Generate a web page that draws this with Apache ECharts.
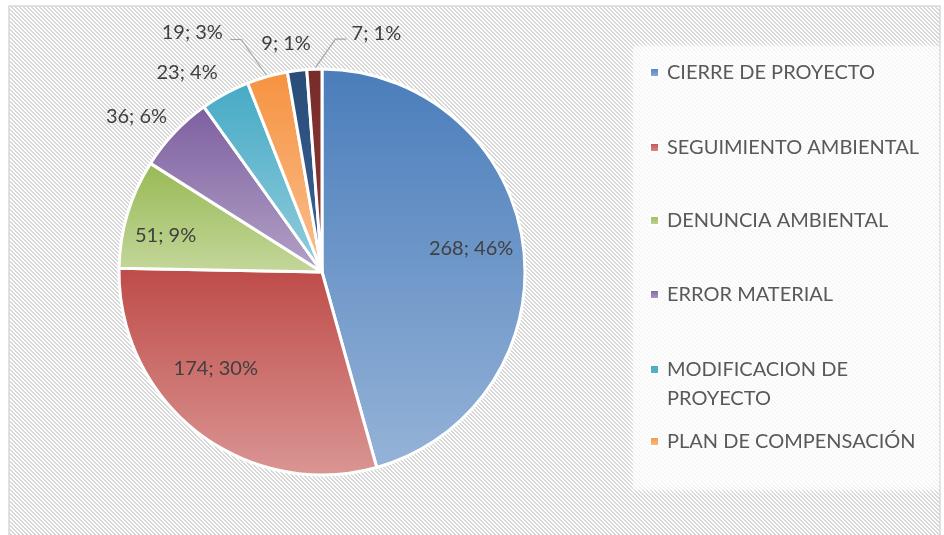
<!DOCTYPE html>
<html lang="es">
<head>
  <meta charset="UTF-8" />
  <title>Trámites por tipo</title>
  <script src="https://cdn.jsdelivr.net/npm/echarts@6/dist/echarts.min.js"></script>
  <style>
    html, body { margin: 0; padding: 0; background: #fff; }
    #main { width: 944px; height: 535px; }
  </style>
</head>
<body>
  <div id="main"></div>
  <script>
    // datos del gráfico
    var categories = [
      'CIERRE DE PROYECTO',
      'SEGUIMIENTO AMBIENTAL',
      'DENUNCIA AMBIENTAL',
      'ERROR MATERIAL',
      'MODIFICACION DE PROYECTO',
      'PLAN DE COMPENSACIÓN',
      'OTROS (A)',
      'OTROS (B)'
    ];
    var values = [268, 174, 51, 36, 23, 19, 9, 7];

    // colores: arriba oscuro, abajo claro (degradado vertical)
    var topColors = ['#4a7dbb', '#be4b48', '#98b954', '#7d5fa0', '#46aac5', '#f69240', '#294c77', '#772c2a'];
    var bottomColors = ['#95b3d7', '#da9694', '#c4d79b', '#b3a2c7', '#93cddd', '#fac090', '#3b6296', '#8c3936'];

    // geometría de la torta
    var CX = 322, CY = 272, R = 203;

    // ajuste de las etiquetas respecto al borde del sector
    var labelNudge = [[-52, 4], [18, -64], [38, 22], [-38, -16], [-38, -21], [-75, -44], [-11, -27], [62, -36]];
    var leaderBends = {
      5: [[-26, -37], [-37, -37]],
      7: [[21, -30], [32, -30]]
    };

    var total = values.reduce(function (a, b) { return a + b; }, 0);

    function edgePoint(i) {
      var before = 0;
      for (var j = 0; j < i; j++) before += values[j];
      var mid = (before + values[i] / 2) / total * Math.PI * 2;
      return [CX + R * Math.sin(mid), CY - R * Math.cos(mid)];
    }

    // trama diagonal del fondo
    function stripes() {
      var c = document.createElement('canvas');
      c.width = 4;
      c.height = 4;
      var ctx = c.getContext('2d');
      ctx.fillStyle = '#ffffff';
      ctx.fillRect(0, 0, 4, 4);
      ctx.fillStyle = '#d6d6d6';
      for (var y = 0; y < 4; y++) {
        for (var x = 0; x < 4; x++) {
          if ((x - y + 8) % 4 < 2) ctx.fillRect(x, y, 1, 1);
        }
      }
      return c;
    }

    var legendTops = [58, 133, 206, 280, 355, 427];
    var legends = categories.slice(0, 6).map(function (name, i) {
      var wrapped = name === 'MODIFICACION DE PROYECTO';
      return {
        data: [name],
        left: 649,
        top: legendTops[i],
        padding: 0,
        icon: wrapped ? 'path://M0,0L9,0L9,9L0,9Z M0,38L0.05,38L0,37.95Z' : 'rect',
        itemWidth: 9,
        itemHeight: wrapped ? 38 : 9,
        formatter: function (n) {
          return n === 'MODIFICACION DE PROYECTO' ? 'MODIFICACION DE\nPROYECTO' : n;
        },
        textStyle: {
          fontFamily: 'Lato',
          fontSize: 20,
          color: '#595959',
          lineHeight: 29,
          padding: [0, 0, 0, 3]
        }
      };
    });

    var chart = echarts.init(document.getElementById('main'));

    var option = {
      animation: false,
      backgroundColor: '#ffffff',
      graphic: [
        {
          type: 'rect',
          z: -10,
          shape: { x: 9, y: 6, width: 931, height: 540 },
          style: {
            fill: { image: stripes(), repeat: 'repeat' },
            stroke: '#d9d9d9',
            lineWidth: 1.5
          },
          silent: true
        },
        {
          type: 'rect',
          z: -9,
          shape: { x: 633, y: 46, width: 306, height: 444 },
          style: {
            fill: 'rgba(255,255,255,0.6)',
            shadowBlur: 10,
            shadowColor: 'rgba(255,255,255,0.9)'
          },
          silent: true
        }
      ],
      legend: legends,
      series: [
        {
          type: 'pie',
          center: [CX, CY],
          radius: R,
          startAngle: 90,
          clockwise: true,
          avoidLabelOverlap: false,
          percentPrecision: 0,
          itemStyle: {
            borderColor: '#ffffff',
            borderWidth: 3
          },
          label: {
            show: true,
            position: 'outside',
            fontFamily: 'Lato',
            fontSize: 20,
            color: '#404040',
            formatter: function (p) {
              return p.value + '; ' + p.percent + '%';
            }
          },
          labelLine: {
            show: true,
            lineStyle: { color: '#a6a6a6', width: 1.2 }
          },
          labelLayout: function (p) {
            var i = p.dataIndex;
            var e = edgePoint(i);
            var out = {
              x: e[0] + labelNudge[i][0],
              y: e[1] + labelNudge[i][1],
              align: 'center',
              verticalAlign: 'middle'
            };
            if (leaderBends[i]) {
              out.labelLinePoints = [
                e,
                [e[0] + leaderBends[i][0][0], e[1] + leaderBends[i][0][1]],
                [e[0] + leaderBends[i][1][0], e[1] + leaderBends[i][1][1]]
              ];
            }
            return out;
          },
          data: values.map(function (v, i) {
            return {
              value: v,
              name: categories[i],
              itemStyle: {
                color: new echarts.graphic.LinearGradient(0, 0, 0, 1, [
                  { offset: 0, color: topColors[i] },
                  { offset: 1, color: bottomColors[i] }
                ])
              },
              label: { position: i < 3 ? 'inside' : 'outside' },
              labelLine: { show: !!leaderBends[i] }
            };
          })
        }
      ]
    };

    chart.setOption(option);
  </script>
</body>
</html>
